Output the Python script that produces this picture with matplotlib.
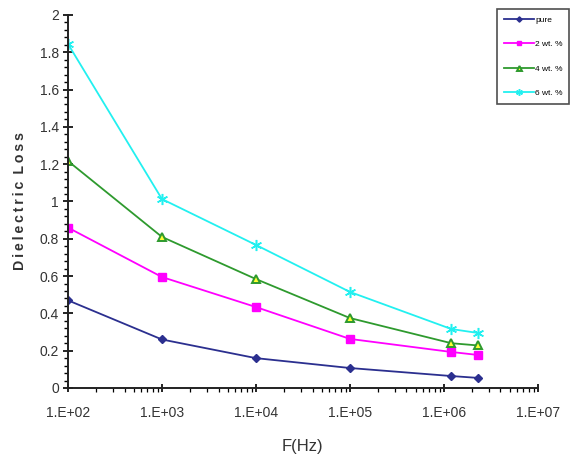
import matplotlib
matplotlib.use("Agg")
import matplotlib.pyplot as plt
from matplotlib.ticker import MultipleLocator, LogLocator, FixedLocator, FixedFormatter, FuncFormatter

freq = [1e2, 1e3, 1e4, 1e5, 1.2e6, 2.3e6]
pure = [0.47, 0.26, 0.16, 0.107, 0.064, 0.054]
wt2 = [0.86, 0.595, 0.434, 0.263, 0.193, 0.177]
wt4 = [1.217, 0.81, 0.584, 0.375, 0.24, 0.228]
wt6 = [1.845, 1.013, 0.767, 0.515, 0.316, 0.295]
series_labels = ["pure", "2 wt. %", "4 wt. %", "6 wt. %"]
x_ticks = [1e2, 1e3, 1e4, 1e5, 1e6, 1e7]
x_tick_labels = ["1.E+02", "1.E+03", "1.E+04", "1.E+05", "1.E+06", "1.E+07"]

plt.rcParams["font.family"] = ["Liberation Sans", "DejaVu Sans"]

fig = plt.figure(figsize=(5.71, 4.68), dpi=100)
ax = fig.add_axes([0.119, 0.171, 0.823, 0.797])

ax.plot(freq, pure, color="#2B2F8F", lw=1.3, marker="D", ms=4.5,
        mfc="#2B2F8F", mec="#2B2F8F", label=series_labels[0])
ax.plot(freq, wt2, color="#FF00FF", lw=1.3, marker="s", ms=5.5,
        mfc="#FF00FF", mec="#FF00FF", label=series_labels[1])
ax.plot(freq, wt4, color="#2E9A2E", lw=1.3, marker="^", ms=6,
        mfc="#FFFF33", mec="#2E9A2E", mew=1.4, label=series_labels[2])
ax.plot(freq, wt6, color="#22F0F0", lw=1.3, marker=(6, 2, 0), ms=8,
        mec="#22F0F0", mew=1.1, label=series_labels[3])

ax.set_xscale("log")
ax.set_xlim(1e2, 1e7)
ax.set_ylim(0, 2)
ax.xaxis.set_major_locator(FixedLocator(x_ticks))
ax.xaxis.set_major_formatter(FixedFormatter(x_tick_labels))
ax.xaxis.set_minor_locator(LogLocator(base=10, subs=range(2, 10), numticks=20))
ax.yaxis.set_major_locator(MultipleLocator(0.2))
ax.yaxis.set_minor_locator(MultipleLocator(0.04))
ax.yaxis.set_major_formatter(FuncFormatter(lambda v, p: f"{v:g}"))

for s in ("top", "right"):
    ax.spines[s].set_visible(False)
for s in ("left", "bottom"):
    ax.spines[s].set_linewidth(1.4)
    ax.spines[s].set_color("#222222")

ax.tick_params(axis="y", which="major", direction="inout", length=7, width=1.2,
               labelsize=10, labelcolor="#333333", pad=3)
ax.tick_params(axis="y", which="minor", direction="out", length=3, width=1.0)
ax.tick_params(axis="x", which="major", direction="inout", length=6, width=1.2,
               labelsize=10, labelcolor="#333333", pad=10)
ax.tick_params(axis="x", which="minor", direction="out", length=3, width=0.9)

ax.set_ylabel("D\u2009i\u2009e\u2009l\u2009e\u2009c\u2009t\u2009r\u2009i\u2009c\u2002L\u2009o\u2009s\u2009s",
              fontsize=10.2, fontweight="bold", color="#333333", labelpad=9)
ax.set_xlabel("F(Hz)", fontsize=12, color="#333333", labelpad=14)

leg = ax.legend(loc="upper left", bbox_to_anchor=(0.914, 1.015), fontsize=6,
                frameon=True, fancybox=False, edgecolor="#222222",
                handlelength=3.6, handletextpad=0.1, labelspacing=2.0,
                borderpad=0.8, borderaxespad=0, markerscale=0.6)
leg.get_frame().set_linewidth(1.2)

fig.savefig("out.png", dpi=100)
